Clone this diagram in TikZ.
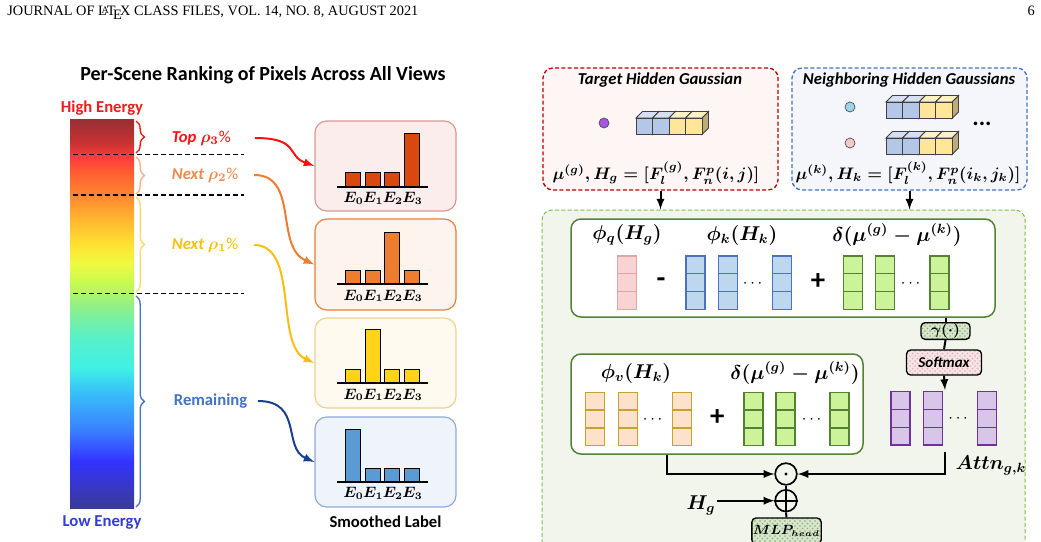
\documentclass[tikz,border=0pt]{standalone}
\usepackage{amsmath, amssymb}
\usepackage[no-math]{fontspec}
\setmainfont{Liberation Serif}
\newfontfamily\diagfont{Carlito}
\usepackage{xcolor}
\usepackage{tikz}
\usetikzlibrary{calc, positioning, fit, patterns, decorations.pathreplacing}

% colours of the figure
\definecolor{hiE}{HTML}{EE1C1C}
\definecolor{loE}{HTML}{2F3FCF}
\definecolor{cTop}{HTML}{FF1010}
\definecolor{cNxtB}{HTML}{F08A4A}
\definecolor{cNxtA}{HTML}{FBBE10}
\definecolor{cRem}{HTML}{4472C4}
\definecolor{cRemArr}{HTML}{1A3E92}
\definecolor{brB}{HTML}{F4B183}
\definecolor{brA}{HTML}{FFD966}
\definecolor{boxAfill}{HTML}{FCEDED}\definecolor{boxAline}{HTML}{DA9694}
\definecolor{boxBfill}{HTML}{FDF4EE}\definecolor{boxBline}{HTML}{ED7D31}
\definecolor{boxCfill}{HTML}{FFFAEF}\definecolor{boxCline}{HTML}{EBD292}
\definecolor{boxDfill}{HTML}{EFF3FA}\definecolor{boxDline}{HTML}{8EA9DB}
\definecolor{barA}{HTML}{D9480F}
\definecolor{barB}{HTML}{ED7D31}
\definecolor{barC}{HTML}{FFD31A}
\definecolor{barD}{HTML}{5B9BD5}
\definecolor{tline}{HTML}{C00000}\definecolor{tfill}{HTML}{FDF6F4}
\definecolor{nline}{HTML}{4472C4}\definecolor{nfill}{HTML}{F4F6FB}
\definecolor{gline}{HTML}{7AC143}\definecolor{gfill}{HTML}{F1F5EC}
\definecolor{iline}{HTML}{548235}
\definecolor{cubeb}{HTML}{B4C7E7}
\definecolor{cubey}{HTML}{FFE699}
\definecolor{pinkf}{HTML}{F8D3D3}\definecolor{pinkl}{HTML}{E6A3A3}
\definecolor{bluef}{HTML}{BDD7EE}\definecolor{bluel}{HTML}{4A72C0}
\definecolor{greenf}{HTML}{CCF29A}\definecolor{greenl}{HTML}{548235}
\definecolor{orgf}{HTML}{FCE2CA}\definecolor{orgl}{HTML}{C9A227}
\definecolor{purf}{HTML}{D9C5E8}\definecolor{purl}{HTML}{7030A0}
\definecolor{gamf}{HTML}{D5E8C8}
\definecolor{softf}{HTML}{FBE2E4}
\definecolor{dotp}{HTML}{A557E0}
\definecolor{dotb}{HTML}{9DD5EA}
\definecolor{dotr}{HTML}{F8C8C8}

% energy colour bar (bottom -> top)
\definecolor{e01}{HTML}{3B3B98}\definecolor{e02}{HTML}{3333FF}
\definecolor{e03}{HTML}{3A7FFF}\definecolor{e04}{HTML}{38C2F8}
\definecolor{e05}{HTML}{40F0E6}\definecolor{e06}{HTML}{58F0C8}
\definecolor{e07}{HTML}{90F088}\definecolor{e08}{HTML}{C8FA50}
\definecolor{e09}{HTML}{F0FA40}\definecolor{e10}{HTML}{FFE030}
\definecolor{e11}{HTML}{FFB830}\definecolor{e12}{HTML}{FF8A30}
\definecolor{e13}{HTML}{FF6030}\definecolor{e14}{HTML}{FF3C3C}
\definecolor{e15}{HTML}{C83232}\definecolor{e16}{HTML}{963034}
\pgfdeclareverticalshading{energy}{100bp}{color(0bp)=(e01); color(25bp)=(e01);
  color(31bp)=(e02); color(35bp)=(e03); color(40bp)=(e04); color(43bp)=(e05);
  color(47bp)=(e06); color(51bp)=(e07); color(54bp)=(e08); color(56.5bp)=(e09);
  color(59bp)=(e10); color(62bp)=(e11); color(65bp)=(e12); color(68bp)=(e13);
  color(70bp)=(e14); color(72bp)=(e15); color(75bp)=(e16); color(100bp)=(e16)}

% one column of three cells: left x, top y, style
\newcommand{\vcol}[3]{%
  \foreach \j in {0,1,2}
    \draw[#3] (#1,#2+17.8*\j) rectangle ++(19,17.8);
}
% four little cubes: top-left corner of the first front face
\newcommand{\cuberow}[2]{%
  \foreach \c [count=\i from 0] in {cubeb,cubeb,cubey,cubey} {
    \draw[cube, fill=\c!75!black] (#1+16.5*\i+16.5,#2) -- ++(6.5,-6.5) -- ++(0,16.5) -- ++(-6.5,6.5) -- cycle;
    \draw[cube, fill=\c!55] (#1+16.5*\i,#2) -- ++(6.5,-6.5) -- ++(16.5,0) -- ++(-6.5,6.5) -- cycle;
    \draw[cube, fill=\c] (#1+16.5*\i,#2) rectangle ++(16.5,16.5);
  }
}
% histogram in a label box: box number, axis y, bar colour, bar heights
\newcommand{\histo}[4]{%
  \foreach \h [count=\i from 0] in {#4}
    \draw[hbar, fill=#3] (345.5+19.7*\i,#2) rectangle ++(15,-\h);
  \draw[axisline] (337,#2) -- (428,#2);
  \foreach \i in {0,...,3}
    \node[elab] (e#1-\i) at (353.5+19.7*\i,#2+11.6) {$E_{\i}$};
}

\begin{document}
\begin{tikzpicture}[x=0.6pt, y=-0.6pt, >=latex,
    txt/.style={font=\diagfont\bfseries},
    ital/.style={font=\diagfont\bfseries\itshape\boldmath},
    mth/.style={font=\boldmath\large, inner sep=1pt},
    elab/.style={font=\boldmath\fontsize{8.8}{10}\selectfont, inner sep=0pt},
    hbar/.style={draw=black, line width=0.6pt},
    axisline/.style={line width=1.4pt},
    sepline/.style={dash pattern=on 3pt off 1.8pt, line width=0.9pt},
    brc/.style={decorate, decoration={brace, amplitude=5pt}, line width=0.8pt},
    flow/.style={->, line width=1.2pt},
    lbox/.style={rounded corners=7pt, inner sep=0pt, line width=0.7pt},
    dbox/.style={rounded corners=6pt, inner sep=0pt, line width=0.8pt, dash pattern=on 2.4pt off 1.4pt},
    ibox/.style={rounded corners=6pt, inner sep=0pt, line width=0.9pt, draw=iline, fill=white},
    cube/.style={draw=black!75, line width=0.5pt},
    cell/.style={line width=0.8pt},
    sgn/.style={font=\diagfont\bfseries\LARGE, inner sep=0pt},
    conn/.style={line width=1.2pt},
    opbox/.style={draw=black, line width=0.8pt, rounded corners=2.5pt, inner sep=0pt},
    gdot/.style={circle, draw=black!70, line width=0.4pt, minimum size=6pt, inner sep=0pt}]

    \useasboundingbox (0,0) rectangle (1041,541);

    % page head
    \node[anchor=base west, font=\fontsize{8.6}{10}\selectfont, inner sep=0] (head) at (7,16)
        {JOURNAL OF \LaTeX\ CLASS FILES, VOL.~14, NO.~8, AUGUST 2021};
    \node[anchor=base east, font=\fontsize{8.6}{10}\selectfont, inner sep=0] (page) at (1035,16) {6};

    % ---------------- left: ranking of pixels ----------------
    \node[txt, font=\diagfont\bfseries\fontsize{12}{14}\selectfont] (title) at (263,75)
        {Per-Scene Ranking of Pixels Across All Views};
    \node[fit={(70,119)(134,508)}, inner sep=0pt, shading=energy] (bar) {};
    \node[txt, text=hiE, above=-1.5pt of bar] (high) {High Energy};
    \node[txt, text=loE, below=1pt of bar] (low) {Low Energy};

    % cuts between the groups
    \draw[sepline] (73,154.3) -- (244,154.3);
    \draw[sepline] (73,195) -- (244,195);
    \draw[sepline] (73,293.3) -- (244,293.3);

    % braces
    \draw[brc, cTop] (136,121) -- (136,153);
    \draw[brc, brB] (136,157) -- (136,194);
    \draw[brc, brA] (136,197) -- (136,292);
    \draw[brc, cRem] (136,296) -- (136,507);

    % group names
    \node[ital, text=cTop, anchor=west] (top) at (166,138) {Top $\rho_3${\mdseries\upshape\%}};
    \node[ital, text=cNxtB, anchor=west] (nxtb) at (166,175) {Next $\rho_2${\mdseries\upshape\%}};
    \node[ital, text=cNxtA, anchor=west] (nxta) at (166,245) {Next $\rho_1${\mdseries\upshape\%}};
    \node[txt, text=cRem, anchor=west] (rem) at (168,401) {Remaining};

    % smoothed label boxes
    \node[lbox, draw=boxAline, fill=boxAfill, fit={(315,121)(456,211)}] (box1) {};
    \node[lbox, draw=boxBline, fill=boxBfill, fit={(315,219)(456,310)}] (box2) {};
    \node[lbox, draw=boxCline, fill=boxCfill, fit={(315,318)(456,408)}] (box3) {};
    \node[lbox, draw=boxDline, fill=boxDfill, fit={(315,417)(456,507)}] (box4) {};
    \histo{1}{186.7}{barA}{14,14,14,53}
    \histo{2}{284.3}{barB}{13.5,13.5,52,13.5}
    \histo{3}{383.3}{barC}{14,54,14,14}
    \histo{4}{481.7}{barD}{52,13.5,13.5,13.5}
    \node[txt, below=1.5pt of box4] (smooth) {Smoothed Label};

    % curved arrows
    \draw[flow, cTop] ([xshift=11pt]top.east) .. controls +(45,0) and +(-28,-10) .. (box1.west);
    \draw[flow, barB] ([xshift=6pt]nxtb.east) .. controls +(45,0) and +(-40,-18) .. (box2.west);
    \draw[flow, cNxtA] ([xshift=6pt]nxta.east) .. controls +(45,0) and +(-40,-18) .. (box3.west);
    \draw[flow, cRemArr] ([xshift=3pt]rem.east) .. controls +(45,0) and +(-32,-14) .. (box4.west);

    % ---------------- right: hidden gaussians ----------------
    \node[dbox, draw=tline, fill=tfill, fit={(543,68)(778,190)}] (tbox) {};
    \node[ital, font=\diagfont\bfseries\itshape] (tname) at (660,80) {Target Hidden Gaussian};
    \node[gdot, fill=dotp] (mug) at (604,123) {};
    \cuberow{636}{118}
    \node[mth, font=\boldmath\normalsize] (tform) at (656,173) {$\mu^{(g)}, H_g = [F_l^{(g)}, F_n^p(i,j)]$};

    \node[dbox, draw=nline, fill=nfill, fit={(792,68)(1027,190)}] (nbox) {};
    \node[ital, font=\diagfont\bfseries\itshape] (nname) at (909,80) {Neighboring Hidden Gaussians};
    \node[gdot, fill=dotb] (muk1) at (850,107) {};
    \node[gdot, fill=dotr] (muk2) at (850,143) {};
    \cuberow{886}{102}
    \cuberow{886}{138}
    \node[txt, font=\diagfont\bfseries\Large] (more) at (982,124) {...};
    \node[mth, font=\boldmath\normalsize] (nform) at (908,173) {$\mu^{(k)}, H_k = [F_l^{(k)}, F_n^p(i_k,j_k)]$};

    % attention block
    \node[dbox, draw=gline, fill=gfill, line width=0.6pt, fit={(542,210)(1025,600)}] (gbox) {};
    \draw[->, conn] (tbox.south) -- (tbox.south |- gbox.north);
    \draw[->, conn] (nbox.south) -- (nbox.south |- gbox.north);

    \node[ibox, fit={(571,219)(995,317)}] (ib1) {};
    \node[mth] (phq) at (627,235) {$\phi_q(H_g)$};
    \node[mth] (phk) at (742,235) {$\phi_k(H_k)$};
    \node[mth] (dlt1) at (897,235) {$\delta(\mu^{(g)}-\mu^{(k)})$};
    \vcol{617.7}{256}{cell, draw=pinkl, fill=pinkf}
    \foreach \x in {686,718.3,772.3} {\vcol{\x}{256}{cell, draw=bluel, fill=bluef}}
    \foreach \x in {843.3,875.7,930} {\vcol{\x}{256}{cell, draw=greenl, fill=greenf}}
    \node[sgn] (minus) at (661,283) {-};
    \node (dk) at (754,284) {$\cdots$};
    \node[sgn] (plus1) at (818,282) {+};
    \node (dd1) at (912,284) {$\cdots$};

    \node[opbox, pattern=crosshatch dots, pattern color=gamf!70!black, preaction={fill=gamf},
        minimum width=29.4pt, minimum height=10pt] (gam) at (945.5,331) {};
    \node[font=\boldmath\small, inner sep=0pt] (gamt) at (gam) {$\gamma(\cdot)$};
    \node[opbox, pattern=crosshatch dots, pattern color=softf!80!black, preaction={fill=softf},
        minimum width=45pt, minimum height=15pt] (soft) at (944,362.5) {};
    \node[ital, font=\diagfont\bfseries\itshape\small, inner sep=0pt] (softt) at (soft) {Softmax};
    \draw[conn] (gam.north) -- (gam.north |- ib1.south);
    \draw[conn] (gam.south) -- (soft.north);
    \coordinate (attn) at (945,390);
    \draw[->, conn] (soft.south) -- (attn);

    \foreach \x in {891,923.3,977.3} {\vcol{\x}{391.7}{cell, draw=purl, fill=purf}}
    \node (dp) at (959.5,419) {$\cdots$};
    \node[mth] (attnt) at (991,465) {$Attn_{g,k}$};

    \node[ibox, fit={(571,354)(863,454)}] (ib2) {};
    \node[mth] (phv) at (636,373) {$\phi_v(H_k)$};
    \node[mth] (dlt2) at (795,373) {$\delta(\mu^{(g)}-\mu^{(k)})$};
    \foreach \x in {585.7,618.3,672.3} {\vcol{\x}{392.3}{cell, draw=orgl, fill=orgf}}
    \foreach \x in {744,776,830} {\vcol{\x}{392.3}{cell, draw=greenl, fill=greenf}}
    \node (dv) at (654,420) {$\cdots$};
    \node[sgn] (plus2) at (717.3,418) {+};
    \node (dd2) at (813,420) {$\cdots$};

    % product, sum and head
    \node[circle, draw, line width=1pt, minimum size=13pt, inner sep=0pt] (prod) at (786,474) {};
    \fill (prod.center) circle (1.6);
    \node[circle, draw, line width=1pt, minimum size=13pt, inner sep=0pt] (sum) at (786,500.7) {};
    \draw[line width=1pt] (sum.north) -- (sum.south) (sum.west) -- (sum.east);
    \draw[->, conn] ([xshift=-30pt]ib2.south) |- (prod.west);
    \coordinate (attnb) at (945,452);
    \draw[->, conn] (attnb) |- (prod.east);
    \draw[conn] (prod.south) -- (sum.north);
    \node[mth] (hg) at (701,505) {$H_g$};
    \draw[->, conn] (hg.east |- sum.west) -- (sum.west);
    \node[opbox, pattern=crosshatch dots, pattern color=gamf!70!black, preaction={fill=gamf},
        minimum width=41.6pt, minimum height=15.6pt] (mlp) at (786.5,531) {};
    \node[font=\boldmath\fontsize{7.6}{9}\selectfont, inner sep=0pt] (mlpt) at (mlp) {$MLP_{head}$};
    \draw[conn] (sum.south) -- (mlp.north);
\end{tikzpicture}
\end{document}
